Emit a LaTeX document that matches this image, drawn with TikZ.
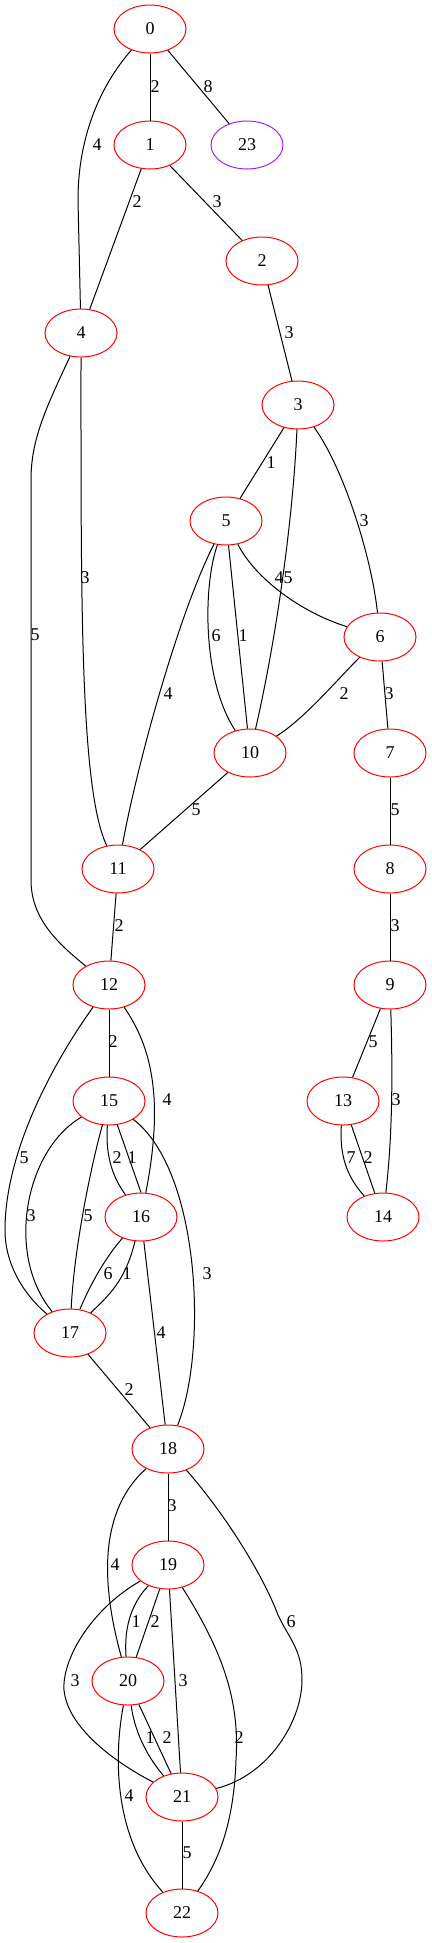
\documentclass[tikz,border=0pt]{standalone}
\usepackage{fontspec}
\setmainfont{Liberation Serif}
\usetikzlibrary{shapes.geometric}

\begin{document}
\begin{tikzpicture}[x=0.75pt,y=0.75pt,yscale=-1,xscale=1,
    vtx/.style={ellipse, draw={rgb, 255:red, 255; green, 0; blue, 0}, line width=0.75pt, minimum width=54pt, minimum height=36pt, inner sep=0pt, font=\fontsize{13.5}{16}\selectfont},
    wgt/.style={inner sep=0.75pt, font=\fontsize{13.5}{16}\selectfont},
    edge/.style={line width=0.75pt}]
    \useasboundingbox (0,0) rectangle (432,1943);

    %Shape: Ellipse
    \node [vtx] (n0) at (150,29) {0};
    \node [vtx] (n1) at (150,145) {1};
    \node [vtx, draw={rgb, 255:red, 160; green, 32; blue, 240}] (n23) at (247,145) {23};
    \node [vtx] (n2) at (262,261) {2};
    \node [vtx] (n4) at (81,333) {4};
    \node [vtx] (n3) at (298,405) {3};
    \node [vtx] (n5) at (226,521) {5};
    \node [vtx] (n6) at (380,637) {6};
    \node [vtx] (n10) at (250,753) {10};
    \node [vtx] (n7) at (390,753) {7};
    \node [vtx] (n11) at (118,869) {11};
    \node [vtx] (n8) at (390,869) {8};
    \node [vtx] (n12) at (109,985) {12};
    \node [vtx] (n9) at (390,985) {9};
    \node [vtx] (n15) at (109,1101) {15};
    \node [vtx] (n13) at (343,1101) {13};
    \node [vtx] (n16) at (141,1217) {16};
    \node [vtx] (n14) at (383,1217) {14};
    \node [vtx] (n17) at (70,1333) {17};
    \node [vtx] (n18) at (168,1449) {18};
    \node [vtx] (n19) at (168,1565) {19};
    \node [vtx] (n20) at (128,1681) {20};
    \node [vtx] (n21) at (182,1797) {21};
    \node [vtx] (n22) at (182,1913) {22};

    %Straight Lines
    \draw [edge] (n0) -- (n1);
    \draw [edge] (n0) -- (n23);
    \draw [edge] (n1) -- (n4);
    \draw [edge] (n1) -- (n2);
    \draw [edge] (n2) -- (n3);
    \draw [edge] (n3) -- (n5);
    \draw [edge] (n5) -- (n10);
    \draw [edge] (n6) -- (n7);
    \draw [edge] (n10) -- (n11);
    \draw [edge] (n7) -- (n8);
    \draw [edge] (n11) -- (n12);
    \draw [edge] (n8) -- (n9);
    \draw [edge] (n12) -- (n15);
    \draw [edge] (n9) -- (n13);
    \draw [edge] (n15) -- (n16.north);
    \draw [edge] (n16) -- (n18);
    \draw [edge] (n17) -- (n18);
    \draw [edge] (n18) -- (n19);
    \draw [edge] (n19) -- (n20);
    \draw [edge] (n19) -- (n21);
    \draw [edge] (n20) -- (n21);
    \draw [edge] (n21) -- (n22);
    \draw [edge] (n13) -- (n14);

    %Curve Lines
    \draw [edge] (n0) .. controls (105,80) and (78,130) .. (78,200) -- (n4);
    \draw [edge] (n3) .. controls (293,520) and (276,640) .. (n10);
    \draw [edge] (n3) .. controls (345,470) and (372,560) .. (n6);
    \draw [edge] (n5) .. controls (255,578) and (300,612) .. (n6);
    \draw [edge] (n5) .. controls (203,585) and (202,680) .. (n10);
    \draw [edge] (n5) .. controls (180,610) and (138,760) .. (n11);
    \draw [edge] (n4) .. controls (81,600) and (80,790) .. (n11);
    \draw [edge] (n4) .. controls (45,410) and (31,440) .. (31,480) -- (31,880) .. controls (31,920) and (60,945) .. (n12);
    \draw [edge] (n6) .. controls (335,682) and (305,718) .. (n10);
    \draw [edge] (n12) .. controls (150,1045) and (165,1095) .. (n16);
    \draw [edge] (n12) .. controls (55,1060) and (5,1150) .. (5,1230) .. controls (5,1270) and (30,1300) .. (n17);
    \draw [edge] (n15) .. controls (25,1150) and (5,1255) .. (n17);
    \draw [edge] (n15) .. controls (90,1170) and (74,1250) .. (n17);
    \draw [edge] (n15) .. controls (105,1160) and (115,1180) .. (n16);
    \draw [edge] (n15) .. controls (200,1170) and (208,1350) .. (n18);
    \draw [edge] (n16) .. controls (105,1258) and (90,1285) .. (n17);
    \draw [edge] (n16) .. controls (125,1282) and (108,1296) .. (n17);
    \draw [edge] (n18) .. controls (100,1510) and (100,1580) .. (n20);
    \draw [edge] (n18) .. controls (230,1520) and (265,1580) .. (278,1615) .. controls (290,1640) and (302,1650) .. (302,1680) .. controls (302,1720) and (270,1775) .. (n21);
    \draw [edge] (n19) .. controls (130,1605) and (124,1630) .. (n20);
    \draw [edge] (n19) .. controls (90,1610) and (62,1660) .. (64,1690) .. controls (68,1730) and (120,1765) .. (n21);
    \draw [edge] (n19) .. controls (222,1650) and (240,1700) .. (236,1760) .. controls (234,1820) and (220,1860) .. (n22);
    \draw [edge] (n20) .. controls (135,1735) and (150,1760) .. (n21);
    \draw [edge] (n20) .. controls (113,1760) and (115,1840) .. (n22);
    \draw [edge] (n9) .. controls (393,1080) and (392,1140) .. (n14);
    \draw [edge] (n13) .. controls (339,1160) and (350,1180) .. (n14);

    % Text Node
    \node [wgt] (w0-1) at (155,87) {2};
    \node [wgt] (w0-23) at (208,87) {8};
    \node [wgt] (w0-4) at (97,145) {4};
    \node [wgt] (w1-4) at (137,202) {2};
    \node [wgt] (w1-2) at (217,202) {3};
    \node [wgt] (w2-3) at (289,333) {3};
    \node [wgt] (w3-5) at (271,463) {1};
    \node [wgt] (w5-6) at (279,578) {4};
    \node [wgt] (w3-10) at (288,578) {5};
    \node [wgt] (w3-6) at (364,521) {3};
    \node [wgt] (w4-11) at (85,578) {3};
    \node [wgt] (w4-12) at (35,635) {5};
    \node [wgt] (w5-11) at (168,694) {4};
    \node [wgt] (w5-10a) at (216,636) {6};
    \node [wgt] (w5-10b) at (243,636) {1};
    \node [wgt] (w6-10) at (344,694) {2};
    \node [wgt] (w6-7) at (389,694) {3};
    \node [wgt] (w10-11) at (196,810) {5};
    \node [wgt] (w7-8) at (395,810) {5};
    \node [wgt] (w11-12) at (119,926) {2};
    \node [wgt] (w8-9) at (395,926) {3};
    \node [wgt] (w12-15) at (113,1042) {2};
    \node [wgt] (w12-16) at (167,1100) {4};
    \node [wgt] (w12-17) at (24,1158) {5};
    \node [wgt] (w9-13) at (373,1042) {5};
    \node [wgt] (w9-14) at (396,1100) {3};
    \node [wgt] (w13-14a) at (351,1158) {7};
    \node [wgt] (w13-14b) at (368,1158) {2};
    \node [wgt] (w15-16a) at (117,1158) {2};
    \node [wgt] (w15-16b) at (132,1158) {1};
    \node [wgt] (w15-17a) at (31,1216) {3};
    \node [wgt] (w15-17b) at (88,1216) {5};
    \node [wgt] (w15-18) at (207,1274) {3};
    \node [wgt] (w16-17a) at (108,1274) {6};
    \node [wgt] (w16-17b) at (127,1274) {1};
    \node [wgt] (w16-18) at (161,1333) {4};
    \node [wgt] (w17-18) at (129,1390) {2};
    \node [wgt] (w18-19) at (172,1506) {3};
    \node [wgt] (w18-20) at (115,1565) {4};
    \node [wgt] (w18-21) at (291,1622) {6};
    \node [wgt] (w19-20a) at (136,1622) {1};
    \node [wgt] (w19-20b) at (155,1622) {2};
    \node [wgt] (w19-21a) at (75,1681) {3};
    \node [wgt] (w19-21b) at (183,1681) {3};
    \node [wgt] (w19-22) at (239,1738) {2};
    \node [wgt] (w20-21a) at (150,1738) {1};
    \node [wgt] (w20-21b) at (167,1738) {2};
    \node [wgt] (w20-22) at (129,1796) {4};
    \node [wgt] (w21-22) at (187,1853) {5};

\end{tikzpicture}
\end{document}
